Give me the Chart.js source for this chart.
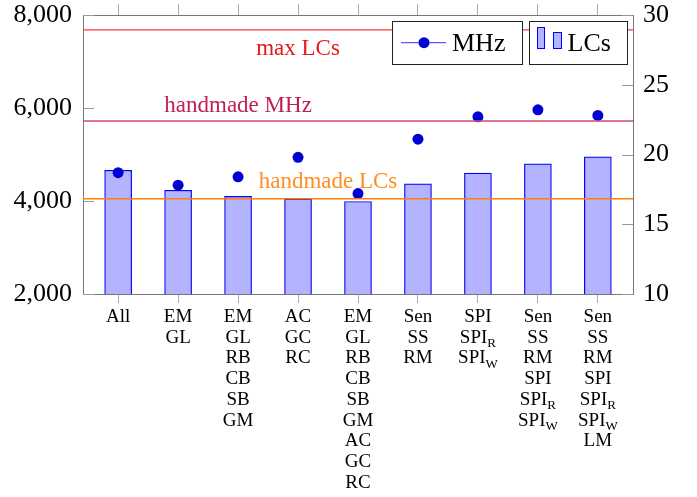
<!DOCTYPE html>
<html>
<head>
<meta charset="utf-8">
<script src="https://cdn.jsdelivr.net/npm/chart.js@4"></script>
<style>
   html, body { margin: 0; padding: 0; background: #fff; }
</style>
</head>
<body>
<canvas id="chart" width="697" height="497"></canvas>
<script>
//1) DATA//
var categories = [
   ['All'],
   ['EM', 'GL'],
   ['EM', 'GL', 'RB', 'CB', 'SB', 'GM'],
   ['AC', 'GC', 'RC'],
   ['EM', 'GL', 'RB', 'CB', 'SB', 'GM', 'AC', 'GC', 'RC'],
   ['Sen', 'SS', 'RM'],
   ['SPI', 'SPI_R', 'SPI_W'],
   ['Sen', 'SS', 'RM', 'SPI', 'SPI_R', 'SPI_W'],
   ['Sen', 'SS', 'RM', 'SPI', 'SPI_R', 'SPI_W', 'LM']
]
var lcsValues = [4660, 4230, 4100, 4040, 3990, 4370, 4600, 4800, 4950]
var mhzValues = [18.7, 17.8, 18.4, 19.8, 17.2, 21.1, 22.7, 23.2, 22.8]
var lcsTicks = [2000, 4000, 6000, 8000]
var mhzTicks = [10, 15, 20, 25, 30]

// reference lines: value, axis, label position (category index), label offset
var refLines = [
   { label: 'max LCs', value: 7680, axis: 'y', at: 3, dy: 25, line: '#ff3a3a', text: '#e81818' },
   { label: 'handmade MHz', value: 22.4, axis: 'y1', at: 2, dy: -9.5, line: '#cf4a78', text: '#c21e56' },
   { label: 'handmade LCs', value: 4050, axis: 'y', at: 3.5, dy: -10.5, line: '#ff8000', text: '#ff8f24' }
]

var serif = '"Liberation Serif", "Times New Roman", serif'

//2) HELPERS + PLUGIN//
function setTicks(list) {
   return function (scale) {
      scale.ticks = list.map(v => ({ value: v }))
   }
}
function fixSize(prop, size) {
   return function (scale) {
      scale[prop] = size
      scale.paddingTop = 0
      scale.paddingBottom = 0
      scale.paddingLeft = 0
      scale.paddingRight = 0
   }
}

function drawSubLabel(ctx, text, cx, baseline) {
   var parts = text.split('_')
   ctx.font = '19px ' + serif
   var w1 = ctx.measureText(parts[0]).width
   ctx.font = '13px ' + serif
   var w2 = parts[1] ? ctx.measureText(parts[1]).width : 0
   var start = cx - (w1 + w2) / 2
   ctx.textAlign = 'left'
   ctx.font = '19px ' + serif
   ctx.fillText(parts[0], start, baseline)
   if (parts[1]) {
      ctx.font = '13px ' + serif
      ctx.fillText(parts[1], start + w1, baseline + 4.5)
   }
}

var extras = {
   id: 'extras',
   afterDatasetsDraw(chart) {
      var ctx = chart.ctx
      var area = chart.chartArea
      var x = chart.scales.x
      ctx.save()

      // inner ticks on the y axes
      ctx.strokeStyle = '#999'
      ctx.lineWidth = 1
      chart.scales.y.ticks.forEach(t => {
         var py = Math.round(chart.scales.y.getPixelForValue(t.value)) + 0.5
         ctx.beginPath(); ctx.moveTo(area.left, py); ctx.lineTo(area.left + 11, py); ctx.stroke()
      })
      chart.scales.y1.ticks.forEach(t => {
         var py = Math.round(chart.scales.y1.getPixelForValue(t.value)) + 0.5
         ctx.beginPath(); ctx.moveTo(area.right - 11, py); ctx.lineTo(area.right, py); ctx.stroke()
      })

      // reference lines + labels
      refLines.forEach(r => {
         var py = chart.scales[r.axis].getPixelForValue(r.value)
         ctx.strokeStyle = r.line
         ctx.lineWidth = 1.4
         ctx.beginPath(); ctx.moveTo(area.left, py); ctx.lineTo(area.right, py); ctx.stroke()
         ctx.fillStyle = r.text
         ctx.font = '23px ' + serif
         ctx.textAlign = 'center'
         ctx.textBaseline = 'alphabetic'
         ctx.fillText(r.label, x.getPixelForValue(r.at), py + r.dy)
      })

      // category labels (with subscripts)
      ctx.fillStyle = '#000'
      ctx.textBaseline = 'alphabetic'
      categories.forEach((lines, i) => {
         var cx = x.getPixelForValue(i)
         lines.forEach((txt, j) => {
            drawSubLabel(ctx, txt, cx, area.bottom + 28 + j * 20.7)
         })
      })

      // legends (one box per axis)
      var mhzSet = chart.data.datasets[0]
      var lcsSet = chart.data.datasets[1]
      var top = area.top + 6
      var h = 43
      var b2 = { x: area.right - 6 - 98, w: 98 }
      var b1 = { x: b2.x - 7 - 130, w: 130 }
      ctx.lineWidth = 1
      ctx.strokeStyle = '#222'
      ctx.fillStyle = '#fff'
      ;[b1, b2].forEach(b => {
         ctx.fillRect(b.x, top, b.w, h)
         ctx.strokeRect(Math.round(b.x) + 0.5, Math.round(top) + 0.5, b.w, h)
      })
      var cy = top + 21.7
      ctx.strokeStyle = '#5a5aff'
      ctx.lineWidth = 1.3
      ctx.beginPath(); ctx.moveTo(b1.x + 9, cy); ctx.lineTo(b1.x + 54, cy); ctx.stroke()
      ctx.fillStyle = mhzSet.pointBackgroundColor
      ctx.beginPath(); ctx.arc(b1.x + 32, cy, 5.5, 0, Math.PI * 2); ctx.fill()
      ctx.fillStyle = '#000'
      ctx.font = '26px ' + serif
      ctx.textAlign = 'left'
      ctx.fillText(mhzSet.label, b1.x + 60, top + 29.5)

      ctx.fillStyle = lcsSet.backgroundColor
      ctx.strokeStyle = lcsSet.borderColor
      ctx.lineWidth = 1
      ctx.fillRect(b2.x + 8.5, top + 6.5, 7, 21)
      ctx.strokeRect(b2.x + 8.5, top + 6.5, 7, 21)
      ctx.fillRect(b2.x + 24.5, top + 11.5, 8, 16)
      ctx.strokeRect(b2.x + 24.5, top + 11.5, 8, 16)
      ctx.fillStyle = '#000'
      ctx.fillText(lcsSet.label, b2.x + 38.5, top + 29.5)

      ctx.restore()
   }
}

//3) CHART//
var catIdx = categories.map((_, i) => i)
var xMin = -0.586
var xMax = categories.length - 1 + 0.586

var ctx = document.getElementById('chart').getContext('2d')
var chart = new Chart(ctx, {
   type: 'bar',
   data: {
      datasets: [{
         type: 'line',
         label: 'MHz',
         data: mhzValues.map((v, i) => ({ x: i, y: v })),
         yAxisID: 'y1',
         showLine: false,
         pointRadius: 5.5,
         pointBorderWidth: 0,
         pointBackgroundColor: '#0000d4',
         borderColor: '#0000d4'
      }, {
         type: 'bar',
         label: 'LCs',
         data: lcsValues.map((v, i) => ({ x: i, y: v })),
         yAxisID: 'y',
         backgroundColor: '#b3b3ff',
         borderColor: '#0000ff',
         borderWidth: 1.2,
         barThickness: 27
      }]
   },
   options: {
      responsive: false,
      animation: false,
      layout: { padding: { left: 13, right: 28, top: 4, bottom: 194 } },
      plugins: { legend: { display: false }, tooltip: { enabled: false } },
      scales: {
         x: {
            type: 'linear', position: 'bottom', min: xMin, max: xMax, offset: false,
            afterBuildTicks: setTicks(catIdx),
            afterFit: fixSize('height', 9),
            ticks: { display: false },
            grid: { offset: false, drawOnChartArea: false, drawTicks: true, tickLength: 9, color: '#aaa' },
            border: { color: '#777' }
         },
         x2: {
            type: 'linear', position: 'top', min: xMin, max: xMax, offset: false,
            afterBuildTicks: setTicks(catIdx),
            afterFit: fixSize('height', 11),
            ticks: { display: false },
            grid: { offset: false, drawOnChartArea: false, drawTicks: true, tickLength: 11, color: '#aaa' },
            border: { color: '#777' }
         },
         y: {
            position: 'left', min: 2000, max: 8000,
            afterBuildTicks: setTicks(lcsTicks),
            afterFit: fixSize('width', 70),
            ticks: {
               padding: 11, color: '#000', font: { family: serif, size: 26 },
               callback: v => v.toLocaleString('en-US')
            },
            grid: { drawOnChartArea: false, drawTicks: false },
            border: { color: '#777' }
         },
         y1: {
            position: 'right', min: 10, max: 30,
            afterBuildTicks: setTicks(mhzTicks),
            afterFit: fixSize('width', 36),
            ticks: { padding: 10, color: '#000', font: { family: serif, size: 26 } },
            grid: { drawOnChartArea: false, drawTicks: false },
            border: { color: '#777' }
         }
      }
   },
   plugins: [extras]
})
</script>
</body>
</html>
